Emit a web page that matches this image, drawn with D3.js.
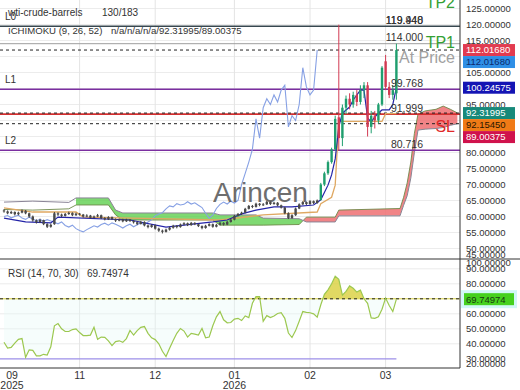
<!DOCTYPE html>
<html>
<head>
<meta charset="utf-8">
<script src="https://cdn.jsdelivr.net/npm/d3@7"></script>
<style>
body { margin: 0; background: #fff; }
svg { display: block; font-family: "Liberation Sans", Arial, sans-serif; }
</style>
</head>
<body>
<div id="chart"></div>
<script>
//--------------------------------------------------------------
// DATA
//--------------------------------------------------------------
var tickBars = [2, 21, 42, 64, 85, 106];
var tickMonths = ["09", "11", "12", "01", "02", "03"];
var tickYears = ["2025", "", "", "2026", "", ""];

// daily bars [open, high, low, close]
var ohlc = [
  [61.9, 62.3, 61.2, 61.6], [61.6, 61.9, 60.7, 61.0], [61.0, 61.8, 60.8, 61.4], [61.4, 61.6, 60.3, 60.7],
  [60.7, 61.5, 60.4, 61.2], [61.2, 62.2, 61.0, 61.8], [61.8, 62.0, 60.7, 61.0], [61.0, 61.2, 59.6, 60.0],
  [60.0, 60.3, 58.4, 58.8], [58.8, 59.1, 57.8, 58.2], [58.2, 59.3, 58.0, 58.9], [58.9, 59.0, 57.3, 57.6],
  [57.6, 57.9, 56.4, 56.8], [56.8, 57.8, 56.5, 57.4], [57.6, 61.4, 57.4, 61.0], [61.0, 61.3, 60.2, 60.6],
  [60.6, 60.9, 59.8, 60.2], [60.2, 61.1, 60.0, 60.8], [60.8, 61.5, 60.5, 61.1], [61.1, 61.3, 60.1, 60.4],
  [60.4, 61.2, 60.2, 60.9], [60.9, 61.1, 60.3, 60.6], [60.6, 60.8, 59.7, 60.0], [60.0, 60.7, 59.8, 60.3],
  [60.3, 60.5, 59.3, 59.6], [59.6, 60.3, 59.4, 60.0], [60.0, 60.8, 59.8, 60.4], [60.4, 60.6, 59.2, 59.5],
  [59.5, 59.8, 58.8, 59.1], [59.1, 60.1, 58.9, 59.8], [59.8, 60.0, 58.9, 59.2], [59.2, 59.4, 58.3, 58.7],
  [58.7, 59.4, 58.5, 59.1], [59.1, 59.3, 58.2, 58.5], [58.5, 59.3, 58.3, 59.0], [59.0, 59.2, 58.3, 58.6],
  [58.6, 58.8, 57.8, 58.2], [58.2, 58.4, 57.3, 57.7], [57.7, 58.6, 57.5, 58.3], [58.3, 58.5, 56.9, 57.2],
  [57.2, 57.5, 56.3, 56.7], [56.7, 57.6, 56.5, 57.3], [57.3, 57.5, 55.9, 56.2], [56.2, 56.5, 55.2, 55.6],
  [55.6, 55.9, 54.7, 55.2], [55.2, 56.2, 55.0, 55.9], [55.9, 56.8, 55.6, 56.5], [56.5, 57.4, 56.2, 57.1],
  [57.1, 57.3, 56.3, 56.7], [56.7, 57.8, 56.5, 57.5], [57.5, 58.2, 57.2, 57.9], [57.9, 58.1, 57.0, 57.3],
  [57.3, 58.3, 57.1, 58.0], [58.0, 58.2, 57.3, 57.6], [57.6, 57.8, 56.7, 57.0], [57.0, 57.2, 56.0, 56.4],
  [56.4, 57.4, 56.2, 57.1], [57.1, 57.9, 56.9, 57.6], [57.6, 57.8, 56.5, 56.8], [56.8, 57.7, 56.6, 57.4],
  [57.4, 58.3, 57.2, 58.0], [58.0, 58.2, 57.2, 57.5], [57.5, 58.6, 57.3, 58.3], [58.3, 59.3, 58.1, 59.0],
  [59.0, 60.5, 58.8, 60.2], [60.2, 61.1, 60.0, 60.8], [60.8, 61.5, 60.5, 61.2], [61.2, 62.7, 61.0, 62.4],
  [62.4, 63.6, 62.2, 63.3], [63.3, 63.6, 62.6, 63.0], [63.0, 64.3, 62.8, 64.0], [64.0, 64.2, 63.2, 63.6],
  [63.6, 64.2, 63.3, 63.8], [63.8, 64.9, 63.6, 64.6], [64.6, 64.8, 63.6, 63.9], [63.9, 64.6, 63.7, 64.3],
  [64.3, 64.5, 63.2, 63.5], [63.5, 63.7, 62.5, 62.8], [62.8, 63.0, 60.7, 61.0], [61.0, 61.3, 59.2, 59.5],
  [59.5, 60.7, 59.3, 60.4], [60.4, 62.8, 60.2, 62.5], [62.5, 64.1, 62.3, 63.8], [63.8, 64.8, 63.6, 64.5],
  [64.5, 64.7, 63.6, 63.9], [63.9, 65.1, 63.7, 64.8], [64.8, 65.0, 63.9, 64.2], [64.2, 65.3, 64.0, 65.0],
  [65.2, 70.5, 65.0, 70.0], [70.0, 74.0, 69.5, 73.5], [73.5, 77.5, 73.0, 77.0], [77.0, 81.5, 76.5, 81.0],
  [81.0, 91.5, 80.5, 90.5], [91.0, 119.948, 80.5, 84.5], [84.5, 95.0, 82.0, 94.0], [94.0, 97.8, 92.0, 96.8],
  [96.8, 98.5, 93.5, 95.0], [95.0, 99.0, 94.0, 98.0], [98.0, 99.5, 94.5, 95.8], [95.8, 101.0, 95.0, 99.5],
  [99.5, 102.0, 97.0, 101.0], [101.0, 102.0, 85.0, 88.0], [88.0, 93.0, 86.0, 91.5], [91.5, 93.0, 87.5, 90.0],
  [90.0, 95.5, 89.0, 95.0], [95.0, 107.0, 94.5, 106.5], [108.5, 110.5, 99.5, 100.5], [100.5, 102.0, 97.0, 98.0],
  [98.0, 101.0, 96.5, 99.5], [98.5, 114.0, 96.5, 112.0168]
];

// ichimoku lines [bar, value]
var tenkanPts = [[0, 59.5], [6, 58.3], [13, 58.0], [15, 59.8], [35, 58.9], [45, 56.7], [58, 58.3], [62, 58.9],
  [66, 60.8], [70, 62.0], [75, 63.0], [80, 63.0], [86, 63.6], [88, 65.2], [90, 69.8], [91, 73.0], [92, 78.0],
  [93, 88.0], [94, 92.3], [96, 94.2], [97, 96.4], [99, 99.5], [100, 99.5], [101, 90.8], [102, 89.5],
  [103, 91.1], [104, 92.3], [105, 93.3], [107, 93.3], [108, 95.0], [109, 100.24575]];
var kijunPts = [[0, 62.7], [8, 61.4], [20, 61.4], [22, 59.8], [60, 58.9], [72, 60.5], [87, 61.4], [88, 64.0],
  [91, 66.0], [92, 69.8], [93, 89.7], [105, 89.7], [106, 92.1545], [109, 92.1545]];
// cloud [bar, senkou A, senkou B]
var spanPts = [[0, 62.2, 64.5], [8, 62.0, 64.8], [18, 62.4, 64.4], [20, 63.6, 65.8], [29, 63.6, 65.8],
  [31, 60.5, 62.0], [33, 58.9, 61.1], [58, 58.9, 61.1], [60, 57.3, 60.5], [70, 57.3, 60.5], [72, 57.3, 59.5],
  [82, 57.5, 59.3], [84, 59.8, 58.3], [92, 59.8, 58.3], [93, 62.0, 60.2], [110, 62.5, 60.2], [111, 66.0, 63.5],
  [112, 70.5, 66.5], [113, 77.0, 72.0], [114, 86.0, 80.0], [115, 92.0, 87.0], [117, 93.0, 87.3],
  [120, 93.5, 87.5], [122, 94.5, 87.8], [124, 93.5, 88.5], [126, 92.31995, 89.00375]];
var cloudStart = 20;
var chikouLag = 22;

var rsiVals = [41, 37.2, 37.6, 40.5, 43, 43.5, 31, 36, 35.6, 32, 32, 33, 32.5, 38, 52, 53.5, 50, 48.2, 48.2,
  49.5, 50, 47.5, 45.5, 45.5, 45.8, 51, 43, 44.5, 44.3, 42, 38.8, 41.5, 42, 41, 43.5, 48.9, 45.8, 48.8, 51,
  51.5, 47, 44, 42.8, 40, 35, 31.5, 37, 42.2, 47, 50.2, 48.5, 44.5, 47, 46.5, 45.8, 50.2, 44, 44.5, 52, 58,
  61.5, 56, 54, 54.2, 56.5, 57, 55.5, 58.6, 57.5, 67, 71.5, 71.5, 55, 58.8, 57.5, 58.5, 60.2, 60.7, 57, 47.2,
  44.2, 48.8, 55, 61.5, 61, 60.7, 60, 57.8, 66, 73, 76, 80, 85, 83, 72.5, 75, 78.6, 77, 74.5, 75.8, 70, 67,
  57.3, 57, 58, 63, 70.5, 65.5, 61.5, 69.74974];

var levelNames = ["L0", "TP1", "L1", "SL", "L2"];
var levelValues = [119.44, 114.0, 99.768, 91.999, 80.716];
var highValue = 119.948;
var dashedValues = [112.0168, 92.31995, 89.00375];
var priceTicks = [125, 120, 115, 110, 105, 100, 95, 90, 85, 80, 75, 70, 65, 60, 55, 50, 45];
var rsiTicks = [100, 90, 80, 70, 60, 50, 40, 30, 20];
var badgeValues = [112.0168, 112.0168, 100.24575, 92.31995, 92.1545, 89.00375];
var rsiLast = 69.74974;

//--------------------------------------------------------------
// LAYOUT
//--------------------------------------------------------------
var width = 520, height = 390;
var plotRight = 460;
var mainTop = 0, mainBottom = 259;
var rsiTop = 259, rsiBottom = 368;

var x = d3.scaleLinear().domain([0, 126]).range([4, 457.6]);
var y = d3.scaleLinear().domain([45, 125]).range([264.5, 8.5]);
var yR = d3.scaleLinear().domain([30, 70]).range([358.8, 298.8]);

var svg = d3.select("#chart").append("svg").attr("width", width).attr("height", height);
var defs = svg.append("defs");
defs.append("clipPath").attr("id", "clipMain").append("rect")
  .attr("x", 0).attr("y", mainTop).attr("width", plotRight).attr("height", mainBottom - mainTop);
defs.append("clipPath").attr("id", "clipRsi").append("rect")
  .attr("x", 0).attr("y", rsiTop).attr("width", plotRight).attr("height", rsiBottom - rsiTop);

// grid
var grid = svg.append("g");
grid.selectAll(".hg").data(priceTicks).enter().append("line")
  .attr("x1", 0).attr("x2", plotRight).attr("y1", d => y(d)).attr("y2", d => y(d))
  .attr("stroke", "#ececec").attr("clip-path", "url(#clipMain)");
grid.selectAll(".rg").data([40, 50, 60, 80, 90]).enter().append("line")
  .attr("x1", 0).attr("x2", plotRight).attr("y1", d => yR(d)).attr("y2", d => yR(d))
  .attr("stroke", "#ececec");
grid.selectAll(".vg").data(tickBars.slice(1)).enter().append("line")
  .attr("x1", d => x(d)).attr("x2", d => x(d)).attr("y1", 0).attr("y2", rsiBottom)
  .attr("stroke", "#e4e4e4");

//--------------------------------------------------------------
// MAIN PANEL
//--------------------------------------------------------------
var main = svg.append("g").attr("clip-path", "url(#clipMain)");

// cloud: green where B above A, red where A above B
var cloudPts = spanPts.filter(d => d[0] >= cloudStart);
var cloudArea = d3.area().x(d => x(d[0])).y0(d => y(d[1])).y1(d => y(d[2]));
var belowB = d3.area().x(d => x(d[0])).y0(d => y(d[2])).y1(mainBottom + 10);
var aboveB = d3.area().x(d => x(d[0])).y0(d => y(d[2])).y1(-10);
defs.append("clipPath").attr("id", "clipGreen").append("path").attr("d", belowB(cloudPts));
defs.append("clipPath").attr("id", "clipRed").append("path").attr("d", aboveB(cloudPts));
main.append("path").attr("d", cloudArea(cloudPts)).attr("fill", "#5fcf4f").attr("opacity", 0.8)
  .attr("clip-path", "url(#clipGreen)");
main.append("path").attr("d", cloudArea(cloudPts)).attr("fill", "#ef6f72").attr("opacity", 0.85)
  .attr("clip-path", "url(#clipRed)");
main.append("path").attr("d", d3.line().x(d => x(d[0])).y(d => y(d[1]))(spanPts))
  .attr("fill", "none").attr("stroke", "#6f8a4a").attr("stroke-width", 0.9);
main.append("path").attr("d", d3.line().x(d => x(d[0])).y(d => y(d[2]))(spanPts))
  .attr("fill", "none").attr("stroke", "#8a8496").attr("stroke-width", 1);

// horizontal levels
var levelStyle = {
  L0: { stroke: "#37474f", w: 1.6 },
  TP1: { stroke: "#9e9e9e", w: 1 },
  L1: { stroke: "#7b2fa0", w: 1.6 },
  SL: { stroke: "#d32f2f", w: 1.6 },
  L2: { stroke: "#7b2fa0", w: 1.6 }
};
levelValues.forEach(function(v, i) {
  var s = levelStyle[levelNames[i]];
  main.append("line").attr("x1", 0).attr("x2", plotRight).attr("y1", y(v)).attr("y2", y(v))
    .attr("stroke", s.stroke).attr("stroke-width", s.w);
});
dashedValues.forEach(function(v) {
  main.append("line").attr("x1", 0).attr("x2", plotRight).attr("y1", y(v)).attr("y2", y(v))
    .attr("stroke", "#222").attr("stroke-width", 1).attr("stroke-dasharray", "3,3");
});

// chikou span = close drawn chikouLag bars back
var chikou = ohlc.map((d, i) => [i - chikouLag, d[3]]).filter(d => d[0] >= 0);
main.append("path").attr("d", d3.line().x(d => x(d[0])).y(d => y(d[1]))(chikou))
  .attr("fill", "none").attr("stroke", "#86a0e4").attr("stroke-width", 1.1);

main.append("path").attr("d", d3.line().x(d => x(d[0])).y(d => y(d[1]))(kijunPts))
  .attr("fill", "none").attr("stroke", "#dfa862").attr("stroke-width", 1.3);
main.append("path").attr("d", d3.line().x(d => x(d[0])).y(d => y(d[1]))(tenkanPts))
  .attr("fill", "none").attr("stroke", "#2424a8").attr("stroke-width", 1.2);

// candles: small ranges show as dark ticks
function candleColor(d) { return d[3] >= d[0] ? "#1f9e6e" : "#d23a52"; }
var candles = main.selectAll(".candle").data(ohlc).enter().append("g");
candles.append("line")
  .attr("x1", (d, i) => x(i)).attr("x2", (d, i) => x(i))
  .attr("y1", d => y(d[1])).attr("y2", d => y(d[2]))
  .attr("stroke", d => d[1] - d[2] > 4 ? candleColor(d) : "#3c3c3c").attr("stroke-width", 1);
candles.append("rect")
  .attr("x", (d, i) => x(i) - 1.2).attr("width", 2.4)
  .attr("y", d => y(Math.max(d[0], d[3])))
  .attr("height", d => Math.max(1, Math.abs(y(d[0]) - y(d[3]))))
  .attr("fill", d => d[1] - d[2] > 4 ? candleColor(d) : "#4a4a4a");

// level texts
var txt = svg.append("g").attr("font-size", 10).attr("fill", "#333");
["L0", "L1", "L2"].forEach(function(n) {
  txt.append("text").attr("x", 5).attr("y", y(levelValues[levelNames.indexOf(n)]) - 6).text(n);
});
var valueLabels = [highValue].concat(levelValues);
valueLabels.forEach(function(v, i) {
  var yy = i === 0 ? y(levelValues[0]) : y(v);
  txt.append("text").attr("x", 423).attr("y", yy - 2.5).attr("text-anchor", "end")
    .attr("font-size", 10.5).text(v.toFixed(3));
});

// big labels
svg.append("text").attr("x", 455).attr("y", y(114.0) + 4).attr("text-anchor", "end")
  .attr("font-size", 16).attr("fill", "#34a034").text("TP1");
svg.append("text").attr("x", 455).attr("y", 8).attr("text-anchor", "end")
  .attr("font-size", 16).attr("fill", "#34a034").text("TP2");
svg.append("text").attr("x", 455).attr("y", y(112.0168) + 13).attr("text-anchor", "end")
  .attr("font-size", 16).attr("fill", "#a0a0a0").text("At Price");
svg.append("text").attr("x", 455).attr("y", y(91.999) + 18).attr("text-anchor", "end")
  .attr("font-size", 16).attr("fill", "#e02828").text("SL");

// watermark
svg.append("text").attr("x", 213).attr("y", 202).attr("font-size", 28)
  .attr("fill", "#555").attr("opacity", 0.85).text("Arincen");

// header
txt.append("text").attr("x", 8).attr("y", 16).text("wti-crude-barrels");
txt.append("text").attr("x", 102).attr("y", 16).text("130/183");
txt.append("text").attr("x", 8).attr("y", 34).attr("font-size", 9.6).text("ICHIMOKU (9, 26, 52)");
txt.append("text").attr("x", 111).attr("y", 34).attr("font-size", 9.6).text("n/a/n/a/n/a/92.31995/89.00375");

//--------------------------------------------------------------
// RSI PANEL
//--------------------------------------------------------------
var rsiG = svg.append("g").attr("clip-path", "url(#clipRsi)");
defs.append("clipPath").attr("id", "clipUp").append("rect")
  .attr("x", 0).attr("y", rsiTop).attr("width", plotRight).attr("height", yR(70) - rsiTop);
defs.append("clipPath").attr("id", "clipDown").append("rect")
  .attr("x", 0).attr("y", yR(70)).attr("width", plotRight).attr("height", rsiBottom - yR(70));
var rsiArea = d3.area().x((d, i) => x(i)).y0(yR(70)).y1(d => yR(d));
rsiG.append("g").attr("clip-path", "url(#clipDown)").append("path").attr("d", rsiArea(rsiVals))
  .attr("fill", "#e4faf6").attr("opacity", 0.35);
rsiG.append("g").attr("clip-path", "url(#clipUp)").append("path").attr("d", rsiArea(rsiVals))
  .attr("fill", "#d9cf3c").attr("opacity", 0.8);
rsiG.append("line").attr("x1", 0).attr("x2", plotRight).attr("y1", yR(70)).attr("y2", yR(70))
  .attr("stroke", "#d8d040").attr("stroke-width", 1);
rsiG.append("line").attr("x1", 0).attr("x2", plotRight).attr("y1", yR(70)).attr("y2", yR(70))
  .attr("stroke", "#222").attr("stroke-dasharray", "3,3");
rsiG.append("line").attr("x1", 0).attr("x2", x(rsiVals.length - 1)).attr("y1", yR(30)).attr("y2", yR(30))
  .attr("stroke", "#9d8fe8").attr("stroke-width", 1.3);
rsiG.append("path").attr("d", d3.line().x((d, i) => x(i)).y(d => yR(d))(rsiVals))
  .attr("fill", "none").attr("stroke", "#9cc850").attr("stroke-width", 1.2);
txt.append("text").attr("x", 8).attr("y", 277).text("RSI (14, 70, 30)");
txt.append("text").attr("x", 87).attr("y", 277).text(rsiLast.toFixed(5));

//--------------------------------------------------------------
// AXES
//--------------------------------------------------------------
// badge positions first, pushed down so they do not overlap
var badgeColors = [["#e23b50", "#fff"], ["#2f8fe6", "#0d2a6e"], ["#1414b4", "#fff"],
  ["#17897a", "#fff"], ["#f07a16", "#2a1600"], ["#d0124c", "#fff"]];
var badgeY = [];
var lastY = -100;
badgeValues.forEach(function(v) {
  var by = Math.max(y(v), lastY + 12);
  badgeY.push(by);
  lastY = by;
});
var rsiBadgeY = yR(rsiLast);

var axisG = svg.append("g").attr("font-size", 9.5).attr("fill", "#333");
// tick labels hidden under a badge are not drawn
axisG.selectAll(".pt").data(priceTicks.filter(d => badgeY.every(b => Math.abs(b - y(d)) > 7))).enter()
  .append("text")
  .attr("x", 466).attr("y", d => Math.min(y(d), mainBottom - 4)).attr("dy", "0.35em")
  .text(d => d.toFixed(5));
axisG.selectAll(".rt").data(rsiTicks.filter(d => Math.abs(yR(d) - rsiBadgeY) > 7)).enter().append("text")
  .attr("x", 466).attr("y", d => Math.max(rsiTop + 4, Math.min(yR(d), rsiBottom - 4))).attr("dy", "0.35em")
  .text(d => d.toFixed(5));

badgeValues.forEach(function(v, i) {
  axisG.append("rect").attr("x", 463).attr("y", badgeY[i] - 6).attr("width", 52).attr("height", 12)
    .attr("fill", badgeColors[i][0]);
  axisG.append("text").attr("x", 466).attr("y", badgeY[i]).attr("dy", "0.35em")
    .attr("fill", badgeColors[i][1]).text(v.toFixed(5));
});
axisG.append("rect").attr("x", 461).attr("y", rsiBadgeY - 9).attr("width", 56).attr("height", 18)
  .attr("fill", "#d2f7f7");
axisG.append("rect").attr("x", 464).attr("y", rsiBadgeY - 6).attr("width", 50).attr("height", 12)
  .attr("fill", "#46d11e");
axisG.append("text").attr("x", 466).attr("y", rsiBadgeY).attr("dy", "0.35em")
  .attr("fill", "#173a10").text(rsiLast.toFixed(5));

// x labels
var xl = svg.append("g").attr("font-size", 10.5).attr("fill", "#333").attr("text-anchor", "middle");
tickBars.forEach(function(b, i) {
  var cx = Math.max(x(b), 12);
  xl.append("text").attr("x", cx).attr("y", 379).text(tickMonths[i]);
  if (tickYears[i]) xl.append("text").attr("x", cx).attr("y", 389).text(tickYears[i]);
});

// frame
svg.append("line").attr("x1", 0).attr("x2", width).attr("y1", mainBottom).attr("y2", mainBottom)
  .attr("stroke", "#333");
svg.append("line").attr("x1", 0).attr("x2", plotRight).attr("y1", rsiBottom).attr("y2", rsiBottom)
  .attr("stroke", "#333");
svg.append("line").attr("x1", plotRight).attr("x2", plotRight).attr("y1", 0).attr("y2", rsiBottom)
  .attr("stroke", "#333");
</script>
</body>
</html>
